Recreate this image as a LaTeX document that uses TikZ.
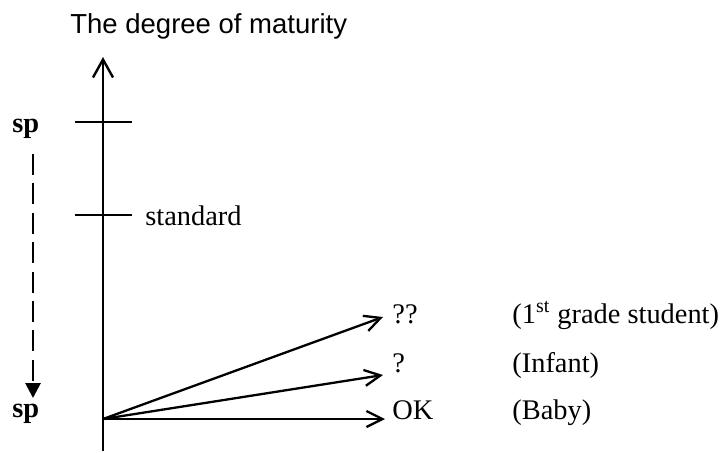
\documentclass[tikz,border=0pt]{standalone}
\usepackage{fontspec}
\setmainfont{Liberation Serif}
\newfontfamily\arialf{Liberation Sans}
\usetikzlibrary{arrows.meta}
\begin{document}
\begin{tikzpicture}[x=0.5pt,y=-0.5pt,
  lbl/.style={anchor=base west,inner sep=0pt,font=\fontsize{14.2pt}{17pt}\selectfont},
  splbl/.style={anchor=base west,inner sep=0pt,font=\fontsize{14.2pt}{17pt}\selectfont\bfseries},
  axisline/.style={line width=1.2pt,-{Straight Barb[length=9pt,width=10pt,line width=1.2pt]}},
  arr/.style={line width=1.15pt,-{Straight Barb[length=8pt,width=8pt,line width=1.15pt]}},
  tick/.style={line width=0.8pt},
  dasharr/.style={line width=1.4pt,dash pattern=on 10.5pt off 4.2pt,-{Triangle[length=7.5pt,width=7.5pt]}}]
\useasboundingbox (0,0) rectangle (724,452);
% title
\node[anchor=base west,inner sep=0pt,font=\fontsize{13.75pt}{16pt}\selectfont\arialf] (title) at (70,33) {The degree of maturity};
% axis
\coordinate (abot) at (103,451);
\coordinate (atop) at (103,57);
\coordinate (O) at (103,419);
\draw[axisline] (abot) -- (atop);
% ticks
\coordinate (t1l) at (75,122); \coordinate (t1r) at (132,122);
\coordinate (t2l) at (75,215); \coordinate (t2r) at (132,215);
\draw[tick] (t1l) -- (t1r);
\draw[tick] (t2l) -- (t2r);
\node[lbl] (std) at (145,225) {standard};
% sp labels
\node[splbl] (sp1) at (12,132) {sp};
\node[splbl] (sp2) at (12,417) {sp};
\coordinate (ds) at (33,154);
\coordinate (de) at (33,398);
\draw[dasharr] (ds) -- (de);
% arrows
\coordinate (e1) at (383,317);
\coordinate (e2) at (383,375);
\coordinate (e3) at (385,419);
\draw[arr] (O) -- (e1);
\draw[arr] (O) -- (e2);
\draw[arr] (O) -- (e3);
\node[lbl] (q2) at (392,323) {??};
\node[lbl] (q1) at (392,372) {?};
\node[lbl] (ok) at (392,419) {OK};
\node[lbl] (g1) at (512,323) {(1\textsuperscript{st} grade student)};
\node[lbl] (g2) at (512,372) {(Infant)};
\node[lbl] (g3) at (512,419) {(Baby)};
\end{tikzpicture}
\end{document}
